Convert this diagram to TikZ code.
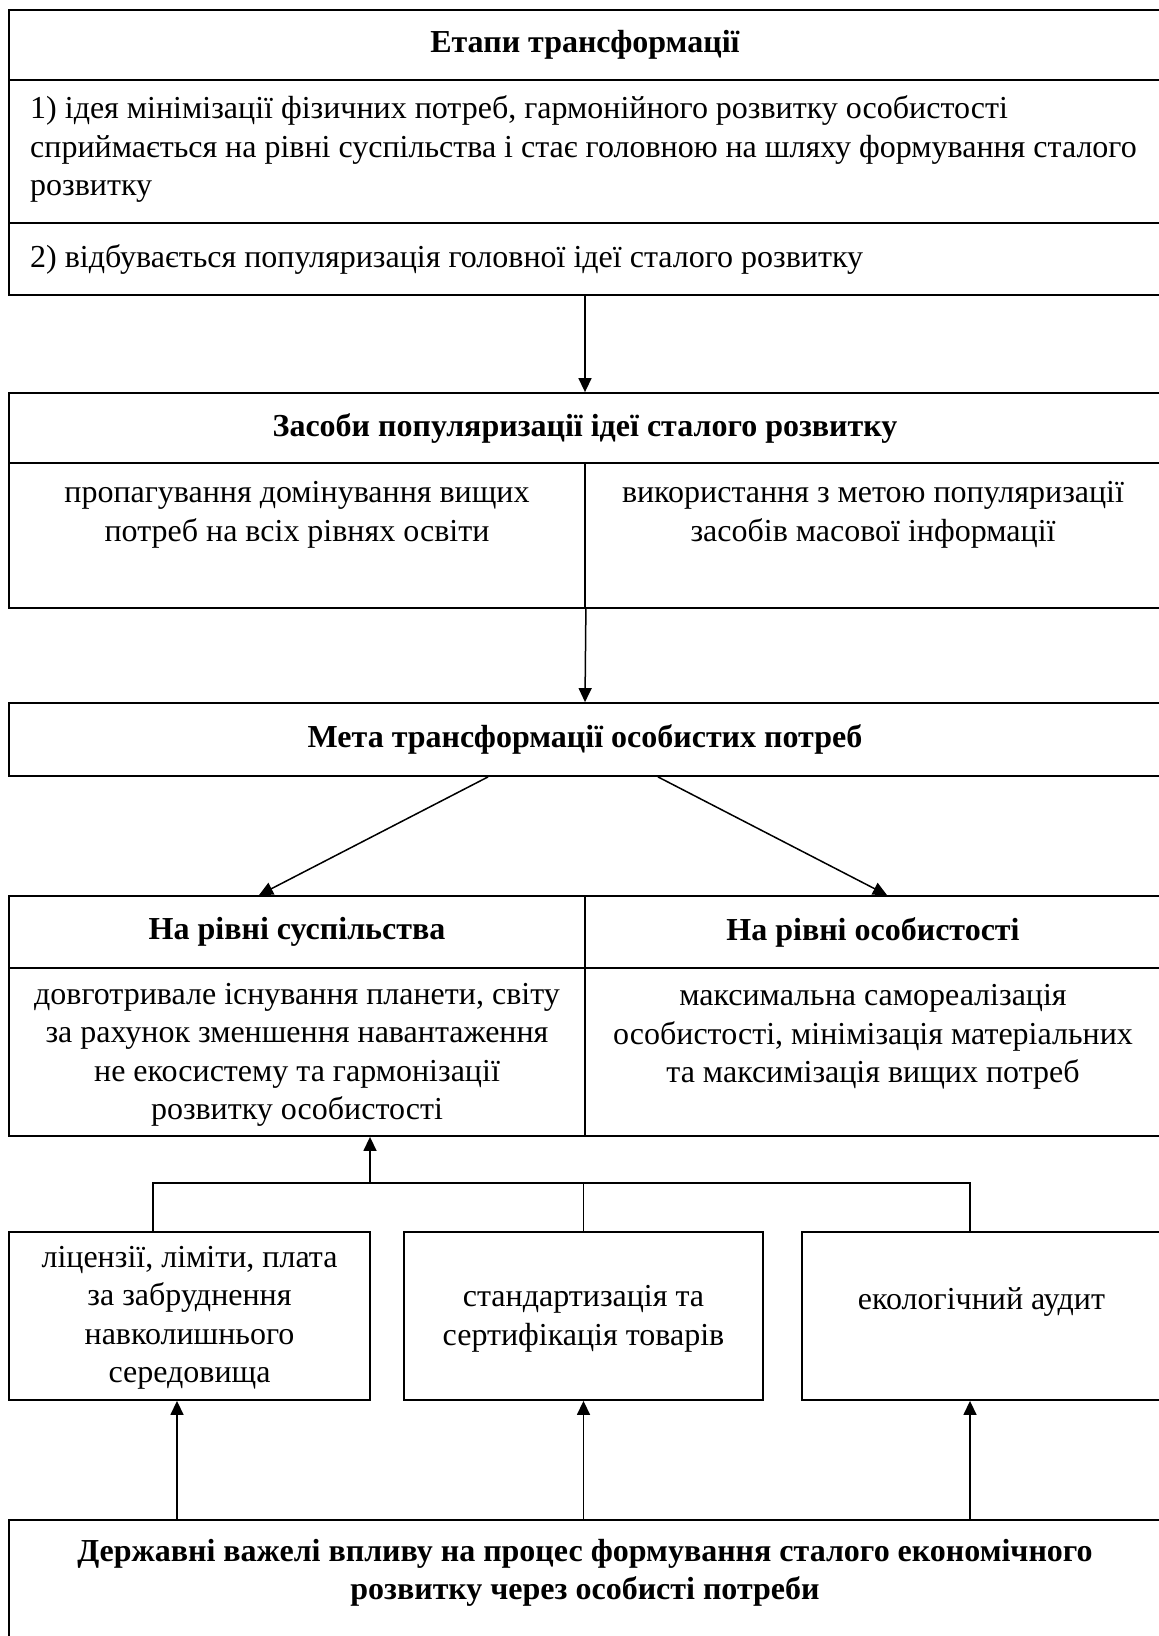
\documentclass[tikz,border=0pt]{standalone}
\usepackage{fontspec}
\setmainfont{Liberation Serif}
\usetikzlibrary{arrows.meta,fit}
\tikzset{
    cellbox/.style={draw, line width=1.8pt, inner sep=0pt},
    txt/.style={font=\fontsize{32}{38.5}\selectfont, align=center, inner sep=0pt},
    conn/.style={line width=1.5pt},
    arr/.style={conn, -{Triangle[length=14pt,width=13pt]}}
}
% a cell of the table: name, x1, y1, x2, y2
\newcommand{\tcell}[5]{
    \node[cellbox, fit={(#2,#3) (#4,#5)}] (#1) {};
}
% text of a cell: options, name, position, text
\newcommand{\ttext}[4][]{
    \node[txt,#1] (#2) at (#3) {#4};
}

\begin{document}
\begin{tikzpicture}[x=1pt,y=-1pt]
    \useasboundingbox (0,0) rectangle (1159,1636);
    \fill[white] (0,0) rectangle (1159,1636);

    % stages
    \tcell{etapy}{9}{10}{1161}{80}
    \tcell{stage1}{9}{80}{1161}{223}
    \tcell{stage2}{9}{223}{1161}{295}
    \ttext{etapy-t}{etapy}{\textbf{Етапи трансформації}}
    \ttext[anchor=west, align=left]{stage1-t}{30,149}{1) ідея мінімізації фізичних потреб, гармонійного розвитку особистості\\
        сприймається на рівні суспільства і стає головною на шляху формування сталого\\
        розвитку}
    \ttext[anchor=west, align=left]{stage2-t}{30,259}{2) відбувається популяризація головної ідеї сталого розвитку}

    % means
    \tcell{zasoby}{9}{393}{1161}{463}
    \tcell{prop}{9}{463}{585}{608}
    \tcell{mass}{585}{463}{1161}{608}
    \ttext{zasoby-t}{zasoby}{\textbf{Засоби популяризації ідеї сталого розвитку}}
    \ttext{prop-t}{297,515}{пропагування домінування вищих\\потреб на всіх рівнях освіти}
    \ttext{mass-t}{873,515}{використання з метою популяризації\\засобів масової інформації}

    % goal
    \tcell{meta}{9}{703}{1161}{776}
    \ttext{meta-t}{meta}{\textbf{Мета трансформації особистих потреб}}

    % levels
    \tcell{soc}{9}{896}{585}{968}
    \tcell{pers}{585}{896}{1161}{968}
    \tcell{socbody}{9}{968}{585}{1136}
    \tcell{persbody}{585}{968}{1161}{1136}
    \ttext{soc-t}{soc}{\textbf{На рівні суспільства}}
    \ttext{pers-t}{pers}{\textbf{На рівні особистості}}
    \ttext{socbody-t}{297,1055}{довготривале існування планети, світу\\за рахунок зменшення навантаження\\не екосистему та гармонізації\\розвитку особистості}
    \ttext{persbody-t}{873,1037}{максимальна самореалізація\\особистості, мінімізація матеріальних\\та максимізація вищих потреб}

    % levers
    \tcell{lic}{9}{1232}{370}{1400}
    \tcell{std}{404}{1232}{763}{1400}
    \tcell{audit}{802}{1232}{1161}{1400}
    \ttext{lic-t}{189.5,1318}{ліцензії, ліміти, плата\\за забруднення\\навколишнього\\середовища}
    \ttext{std-t}{583.5,1319}{стандартизація та\\сертифікація товарів}
    \ttext{audit-t}{981.5,1302}{екологічний аудит}

    \tcell{gov}{9}{1520}{1161}{1650}
    \ttext{gov-t}{585,1573}{\textbf{Державні важелі впливу на процес формування сталого економічного}\\\textbf{розвитку через особисті потреби}}

    % connectors
    \draw[arr] (stage2.south) -- (zasoby.north);
    \draw[arr] (prop.south east) -- (meta.north);
    \draw[arr] ([xshift=-97pt]meta.south) -- ([xshift=-38pt]soc.north);
    \draw[arr] ([xshift=73pt]meta.south) -- ([xshift=14pt]pers.north);

    \coordinate (bus) at (370,1183);
    \draw[conn] ([xshift=-36.5pt]lic.north) |- (bus) -| ([xshift=-11.5pt]audit.north);
    \draw[conn] (std.north) -- (std.north |- bus);
    \draw[arr] (bus) -- ([xshift=73pt]socbody.south);

    \draw[arr] ([xshift=-408pt]gov.north) -- ([xshift=-12.5pt]lic.south);
    \draw[arr] (std.south |- gov.north) -- (std.south);
    \draw[arr] ([xshift=385pt]gov.north) -- ([xshift=-11.5pt]audit.south);
\end{tikzpicture}
\end{document}
